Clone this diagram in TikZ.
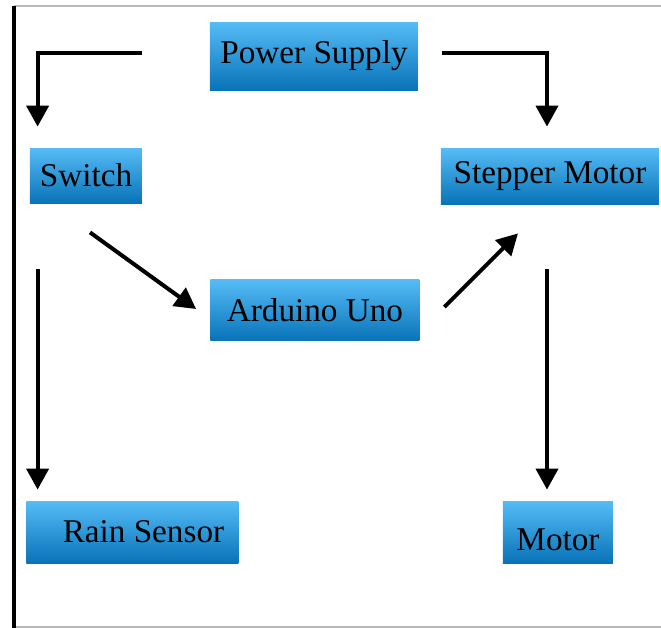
\documentclass[tikz,border=0pt]{standalone}
\usepackage{fontspec}
\setmainfont{Liberation Serif}
\usepackage{tikz}
\usetikzlibrary{positioning}
\usetikzlibrary{arrows.meta}
\usetikzlibrary{calc}

\definecolor{cajaarriba}{HTML}{55BCF6}
\definecolor{cajaabajo}{HTML}{0973B8}

\begin{document}
\begin{tikzpicture}[
        x=0.5pt, y=-0.5pt,
        every node/.style={font=\fontsize{16.6}{20}\selectfont},
        caja/.style={
            top color=cajaarriba,
            bottom color=cajaabajo,
            inner sep=0pt,
            text=black
        },
        flecha/.style={
            line width=2pt,
            -{Triangle[width=11pt,length=10.5pt]}
        }
    ]

        % Marco
        \useasboundingbox (0,0) rectangle (661,628);
        \draw[gray!55, line width=0.8pt] (14,6) -- (661,6);
        \draw[gray!55, line width=0.8pt] (14,627) -- (661,627);
        \draw[line width=2.2pt] (14,6) -- (14,628);

        % Bloques
        \node[caja, minimum width=104pt, minimum height=34pt] (fuente) at (314,56) {\raisebox{2pt}[\height][0pt]{Power Supply}};
        \node[caja, minimum width=56pt, minimum height=27.5pt] (switch) at (86,175.5) {Switch};
        \node[caja, minimum width=109pt, minimum height=28pt] (stepper) at (550,176) {Stepper Motor};
        \node[caja, minimum width=104.5pt, minimum height=30.5pt] (arduino) at (315,310) {Arduino Uno};
        \node[caja, minimum width=106pt, minimum height=31pt] (sensor) at (132.5,532) {\hspace{11pt}Rain Sensor};
        \node[caja, minimum width=55pt, minimum height=31pt] (motor) at (558,532) {\raisebox{-4pt}[\height][0pt]{Motor}\hspace{5pt}};

        % Puntos libres de las flechas
        \coordinate (fuente-i) at ($(fuente.west)+(-68,-3)$);
        \coordinate (fuente-d) at ($(fuente.east)+(24,-3)$);
        \coordinate (switch-n) at ($(switch.north west)+(8,-21)$);
        \coordinate (stepper-n) at ($(stepper.north)+(-3,-21)$);
        \coordinate (switch-s) at ($(switch.south)+(4,29)$);
        \coordinate (arduino-o) at ($(arduino.west)+(-14,-1)$);
        \coordinate (arduino-e) at ($(arduino.east)+(24.5,-3)$);
        \coordinate (stepper-s) at ($(stepper.south)+(-32,29)$);
        \coordinate (switch-b) at ($(switch.south west)+(8,66)$);
        \coordinate (sensor-n) at ($(sensor.north west)+(11.5,-11)$);
        \coordinate (stepper-b) at ($(stepper.south)+(-3,65)$);
        \coordinate (motor-n) at ($(motor.north)+(-11,-11)$);

        % Flechas
        \draw[flecha] (fuente-i) -| (switch-n);
        \draw[flecha] (fuente-d) -| (stepper-n);
        \draw[flecha] (switch-s) -- (arduino-o);
        \draw[flecha] (arduino-e) -- (stepper-s);
        \draw[flecha] (switch-b) -- (sensor-n);
        \draw[flecha] (stepper-b) -- (motor-n);

    \end{tikzpicture}
\end{document}
